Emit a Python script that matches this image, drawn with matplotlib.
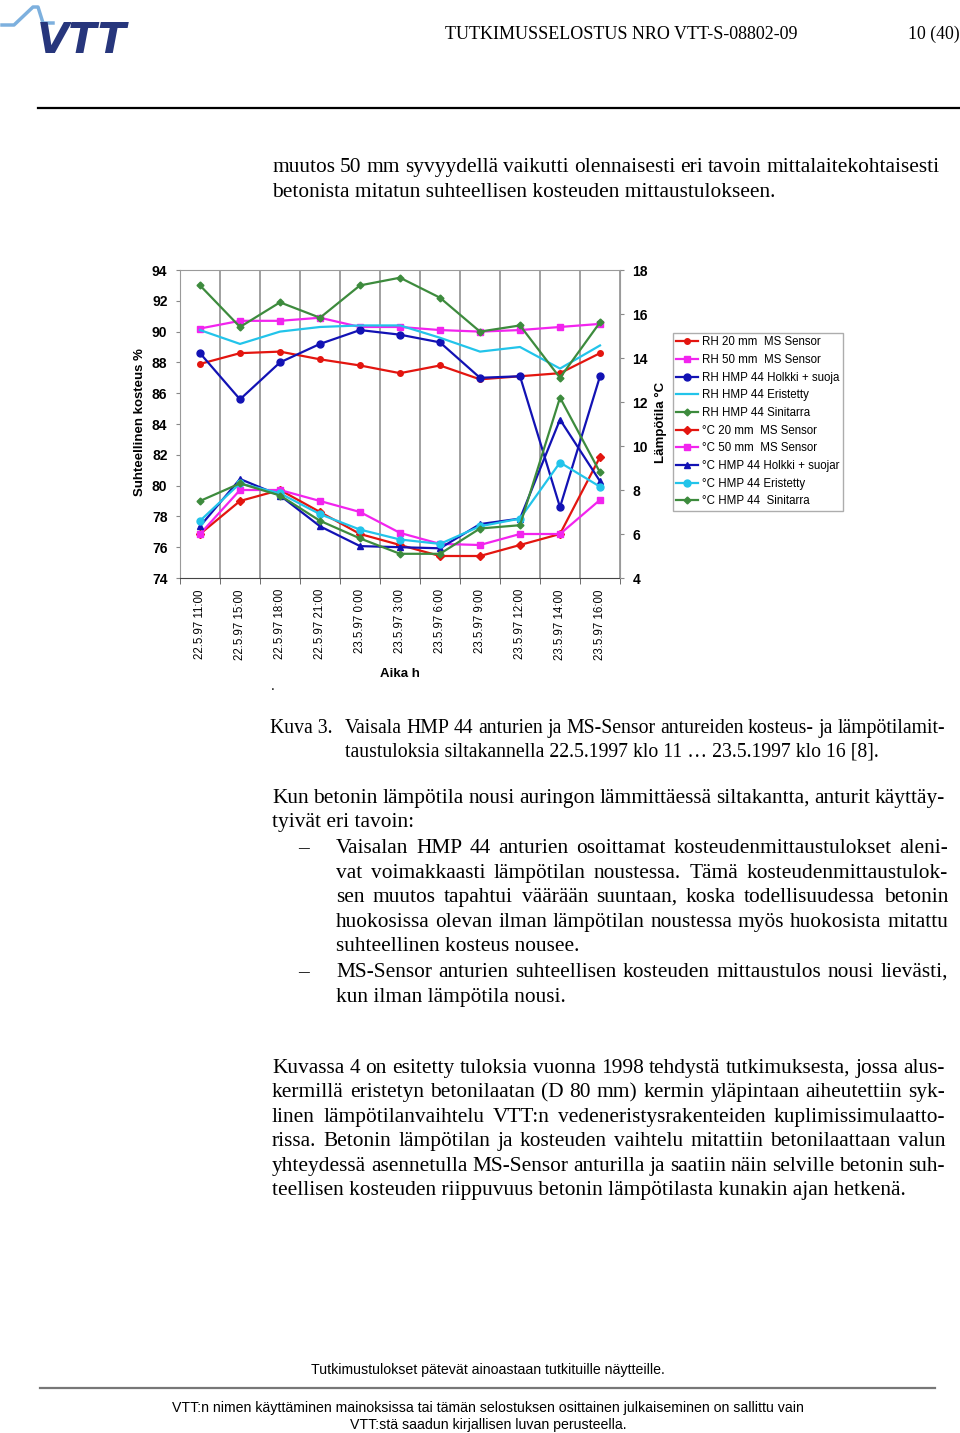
import matplotlib
matplotlib.use('Agg')
import matplotlib.pyplot as plt
from matplotlib.lines import Line2D
import numpy as np

W, H = 960, 1433

# chart data
times = ['22.5.97 11:00', '22.5.97 15:00', '22.5.97 18:00', '22.5.97 21:00',
         '23.5.97 0:00', '23.5.97 3:00', '23.5.97 6:00', '23.5.97 9:00',
         '23.5.97 12:00', '23.5.97 14:00', '23.5.97 16:00']

rh_ms20 = [87.9, 88.6, 88.7, 88.2, 87.8, 87.3, 87.8, 86.9, 87.1, 87.3, 88.6]
rh_ms50 = [90.2, 90.7, 90.7, 90.9, 90.3, 90.3, 90.1, 90.0, 90.1, 90.3, 90.5]
rh_holkki = [88.6, 85.6, 88.0, 89.2, 90.1, 89.8, 89.3, 87.0, 87.1, 78.6, 87.1]
rh_eristetty = [90.1, 89.2, 90.0, 90.3, 90.4, 90.4, 89.6, 88.7, 89.0, 87.6, 89.1]
rh_sinitarra = [93.0, 90.3, 91.9, 90.9, 93.0, 93.5, 92.2, 90.0, 90.4, 87.0, 90.6]

t_ms20 = [6.0, 7.5, 8.0, 7.0, 6.0, 5.5, 5.0, 5.0, 5.5, 6.0, 9.5]
t_ms50 = [6.0, 8.0, 8.0, 7.5, 7.0, 6.05, 5.55, 5.5, 6.0, 6.0, 7.55]
t_holkki = [6.35, 8.5, 7.75, 6.35, 5.45, 5.4, 5.35, 6.45, 6.7, 11.2, 8.4]
t_eristetty = [6.6, 8.3, 7.85, 6.9, 6.2, 5.75, 5.55, 6.35, 6.7, 9.25, 8.15]
t_sinitarra = [7.5, 8.3, 7.75, 6.6, 5.8, 5.1, 5.1, 6.25, 6.4, 12.2, 8.8]

# page text
top_par = ["muutos 50 mm syvyydellä vaikutti olennaisesti eri tavoin mittalaitekohtaisesti",
           "betonista mitatun suhteellisen kosteuden mittaustulokseen."]
caption = ["Vaisala HMP 44 anturien ja MS-Sensor antureiden kosteus- ja lämpötilamit-",
           "taustuloksia siltakannella 22.5.1997 klo 11 … 23.5.1997 klo 16 [8]."]
par2 = ["Kun betonin lämpötila nousi auringon lämmittäessä siltakantta, anturit käyttäy-",
        "tyivät eri tavoin:"]
bullet1 = ["Vaisalan HMP 44 anturien osoittamat kosteudenmittaustulokset aleni-",
           "vat voimakkaasti lämpötilan noustessa. Tämä kosteudenmittaustulok-",
           "sen muutos tapahtui väärään suuntaan, koska todellisuudessa betonin",
           "huokosissa olevan ilman lämpötilan noustessa myös huokosista mitattu",
           "suhteellinen kosteus nousee."]
bullet2 = ["MS-Sensor anturien suhteellisen kosteuden mittaustulos nousi lievästi,",
           "kun ilman lämpötila nousi."]
par3 = ["Kuvassa 4 on esitetty tuloksia vuonna 1998 tehdystä tutkimuksesta, jossa alus-",
        "kermillä eristetyn betonilaatan (D 80 mm) kermin yläpintaan aiheutettiin syk-",
        "linen lämpötilanvaihtelu VTT:n vedeneristysrakenteiden kuplimissimulaatto-",
        "rissa. Betonin lämpötilan ja kosteuden vaihtelu mitattiin betonilaattaan valun",
        "yhteydessä asennetulla MS-Sensor anturilla ja saatiin näin selville betonin suh-",
        "teellisen kosteuden riippuvuus betonin lämpötilasta kunakin ajan hetkenä."]

plt.rcParams['font.family'] = ['Liberation Sans', 'DejaVu Sans']

fig = plt.figure(figsize=(W / 100, H / 100), dpi=100)
renderer = fig.canvas.get_renderer()


def fx(x):
    return x / W


def fy(y):
    return 1 - y / H


SERIF = ['Liberation Serif', 'DejaVu Serif']
BODY = 15.4
CAP = 14.2


# one line of body text, spread between x0 and x1 if x1 is given
def text_line(s, x0, y, x1=None, size=BODY):
    if x1 is None:
        fig.text(fx(x0), fy(y), s, fontsize=size, family=SERIF, va='baseline')
        return
    words = s.split()
    arts = [fig.text(0, fy(y), w, fontsize=size, family=SERIF, va='baseline') for w in words]
    widths = [a.get_window_extent(renderer).width for a in arts]
    gap = (x1 - x0 - sum(widths)) / (len(words) - 1)
    pos = x0
    for a, wd in zip(arts, widths):
        a.set_x(fx(pos))
        pos += wd + gap


def paragraph(lines, x0, x1, baselines, size=BODY):
    for i, (s, y) in enumerate(zip(lines, baselines)):
        if i < len(lines) - 1:
            text_line(s, x0, y, x1, size)
        else:
            text_line(s, x0, y, None, size)


# header
fig.add_artist(Line2D([fx(2), fx(14), fx(33), fx(38), fx(43), fx(53)],
                      [fy(25), fy(25), fy(7), fy(7), fy(23), fy(23)],
                      transform=fig.transFigure, color='#7db0de', lw=2.5))
fig.text(fx(37), fy(53), 'VTT', fontsize=30, fontweight='bold', fontstyle='italic',
         color='#27367c', family='DejaVu Sans', va='baseline')
fig.text(fx(445), fy(39), 'TUTKIMUSSELOSTUS NRO VTT-S-08802-09', fontsize=13,
         family=SERIF, va='baseline')
fig.text(fx(960), fy(39), '10 (40)', fontsize=12.8, family=SERIF, va='baseline', ha='right')
fig.add_artist(Line2D([fx(38), fx(960)], [fy(108), fy(108)], transform=fig.transFigure,
                      color='black', lw=1.6))

RIGHT = 945
paragraph(top_par, 272, RIGHT - 5, [172, 197])

# chart
ax = fig.add_axes([fx(180), fy(578), 440 / W, 308 / H])
ax2 = ax.twinx()
x = np.arange(len(times))

red = '#e3150f'
mag = '#f224ee'
blue = '#1212b4'
cyan = '#22c4ea'
green = '#3d8b3d'
lw = 1.6

ax.plot(x, rh_ms20, color=red, marker='o', ms=4, lw=lw, label='RH 20 mm  MS Sensor')
ax.plot(x, rh_ms50, color=mag, marker='s', ms=5, lw=lw, label='RH 50 mm  MS Sensor')
ax.plot(x, rh_holkki, color=blue, marker='o', ms=5, lw=lw, label='RH HMP 44 Holkki + suoja')
ax.plot(x, rh_eristetty, color=cyan, lw=lw, label='RH HMP 44 Eristetty')
ax.plot(x, rh_sinitarra, color=green, marker='D', ms=3.5, lw=lw, label='RH HMP 44 Sinitarra')

ax2.plot(x, t_ms20, color=red, marker='D', ms=4, lw=lw, label='°C 20 mm  MS Sensor')
ax2.plot(x, t_ms50, color=mag, marker='s', ms=5, lw=lw, label='°C 50 mm  MS Sensor')
ax2.plot(x, t_holkki, color=blue, marker='^', ms=5, lw=lw, label='°C HMP 44 Holkki + suojar')
ax2.plot(x, t_eristetty, color=cyan, marker='o', ms=5, lw=lw, label='°C HMP 44 Eristetty')
ax2.plot(x, t_sinitarra, color=green, marker='D', ms=3.5, lw=lw, label='°C HMP 44  Sinitarra')

ax.set_xlim(-0.5, len(times) - 0.5)
ax.set_ylim(74, 94)
ax2.set_ylim(4, 18)
ax.set_yticks(np.arange(74, 95, 2))
ax2.set_yticks(np.arange(4, 19, 2))
ax.set_xticks(x)
ax.set_xticklabels(times, rotation=90, fontsize=8.3)
ax.set_xticks(np.arange(-0.5, len(times), 1), minor=True)
ax.tick_params(axis='x', which='major', length=0, pad=8)
ax.tick_params(axis='x', which='minor', length=4, color='#555555')
ax.grid(axis='x', which='minor', color='#9a9a9a', lw=1.3)
ax.tick_params(axis='y', length=3, color='#888888', pad=6, labelsize=10)
ax2.tick_params(axis='y', length=3, color='#888888', pad=6, labelsize=10)
for lab in ax.get_yticklabels() + ax2.get_yticklabels():
    lab.set_fontweight('bold')

for sp in ['left', 'top']:
    ax.spines[sp].set_color('#9a9a9a')
ax.spines['right'].set_visible(False)
ax.spines['bottom'].set_color('#444444')
for sp in ['left', 'top', 'bottom']:
    ax2.spines[sp].set_visible(False)
ax2.spines['right'].set_color('#9a9a9a')

fig.text(fx(140), fy(422), 'Suhteellinen kosteus %', rotation=90, fontsize=9.5,
         fontweight='bold', ha='center', va='center')
fig.text(fx(661), fy(422), 'Lämpötila °C', rotation=90, fontsize=9.5,
         fontweight='bold', ha='center', va='center')
fig.text(fx(400), fy(674), 'Aika h', fontsize=9.5, fontweight='bold', ha='center', va='center')
fig.text(fx(273), fy(686), '.', fontsize=10, ha='center', va='center')

h1, l1 = ax.get_legend_handles_labels()
h2, l2 = ax2.get_legend_handles_labels()
leg = ax2.legend(h1 + h2, l1 + l2, loc='upper left', bbox_to_anchor=(fx(673), fy(333)),
                 bbox_transform=fig.transFigure, fontsize=8.3, frameon=True, fancybox=False,
                 edgecolor='#999999', borderpad=0.3, labelspacing=0.49, handlelength=1.9,
                 handletextpad=0.3, borderaxespad=0)
leg.get_frame().set_linewidth(1.0)

# caption and text
fig.text(fx(270), fy(733), 'Kuva 3.', fontsize=CAP, family=SERIF, va='baseline')
paragraph(caption, 345, RIGHT, [733, 756], CAP)
paragraph(par2, 272, RIGHT, [803, 827])
fig.text(fx(298), fy(853), '–', fontsize=BODY, family=SERIF, va='baseline')
paragraph(bullet1, 336, RIGHT + 3, [853, 878, 902, 927, 951])
fig.text(fx(298), fy(977), '–', fontsize=BODY, family=SERIF, va='baseline')
paragraph(bullet2, 336, RIGHT + 3, [977, 1002])
paragraph(par3, 272, RIGHT, [1073, 1097, 1122, 1146, 1171, 1195])

# footer
fig.text(fx(488), fy(1374), 'Tutkimustulokset pätevät ainoastaan tutkituille näytteille.',
         fontsize=10.2, ha='center', va='baseline')
fig.add_artist(Line2D([fx(40), fx(935)], [fy(1388), fy(1388)], transform=fig.transFigure,
                      color='#777777', lw=1.6))
fig.text(fx(488), fy(1412),
         'VTT:n nimen käyttäminen mainoksissa tai tämän selostuksen osittainen julkaiseminen on sallittu vain',
         fontsize=10.2, ha='center', va='baseline')
fig.text(fx(488), fy(1429), 'VTT:stä saadun kirjallisen luvan perusteella.',
         fontsize=10.2, ha='center', va='baseline')

fig.savefig('out.png', dpi=100)
